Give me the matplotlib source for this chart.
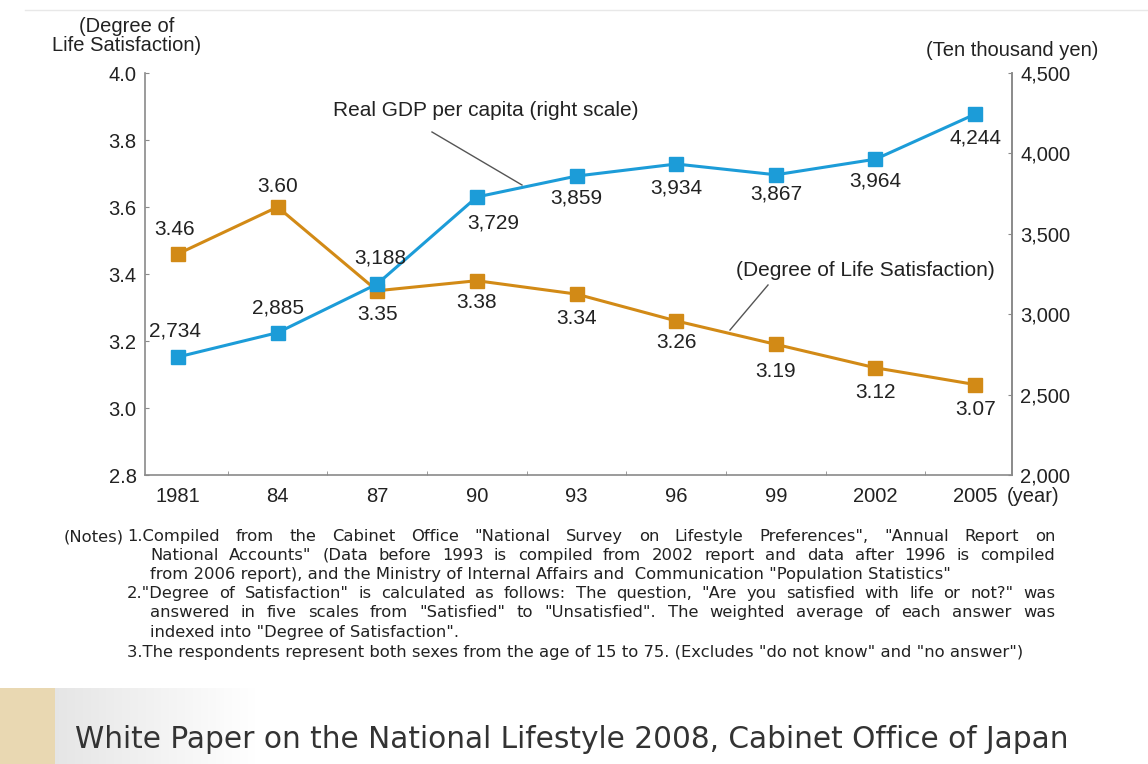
import numpy as np
import matplotlib.pyplot as plt
from matplotlib.lines import Line2D

# data
years = ['1981', '84', '87', '90', '93', '96', '99', '2002', '2005']
satisfaction = [3.46, 3.60, 3.35, 3.38, 3.34, 3.26, 3.19, 3.12, 3.07]
gdp = [2734, 2885, 3188, 3729, 3859, 3934, 3867, 3964, 4244]
sat_labels = ['3.46', '3.60', '3.35', '3.38', '3.34', '3.26', '3.19', '3.12', '3.07']
gdp_labels = ['2,734', '2,885', '3,188', '3,729', '3,859', '3,934', '3,867', '3,964', '4,244']
left_ticks = [2.8, 3.0, 3.2, 3.4, 3.6, 3.8, 4.0]
right_ticks = [2000, 2500, 3000, 3500, 4000, 4500]

# label offsets in pixels (dx, dy)
sat_off = [(-3, 24), (0, 21), (0, -24), (0, -22), (0, -24), (0, -22), (0, -27), (0, -25), (0, -25)]
gdp_off = [(-3, 26), (0, 25), (3, 26), (16, -26), (0, -22), (0, -24), (0, -19), (0, -22), (0, -24)]

notes = [
    # x, y, text, justify to right edge?
    (127, 536, '1.Compiled from the Cabinet Office "National Survey on Lifestyle Preferences", "Annual  Report on', True),
    (150, 555, 'National Accounts" (Data before 1993 is compiled from 2002 report and data after 1996 is compiled', True),
    (150, 574, 'from 2006 report), and the Ministry of Internal Affairs and  Communication "Population Statistics"', False),
    (127, 593, '2."Degree of Satisfaction" is calculated as follows: The question, "Are you satisfied with life or not?" was', True),
    (150, 612, 'answered in five scales from "Satisfied" to "Unsatisfied". The weighted average of each answer was', True),
    (150, 632, 'indexed into "Degree of Satisfaction".', False),
    (127, 652, '3.The respondents represent both sexes from the age of 15 to 75. (Excludes "do not know" and "no answer")', False),
]

plt.rcParams['font.family'] = ['Liberation Sans', 'DejaVu Sans']

W, H = 1148, 764
fig = plt.figure(figsize=(W / 100, H / 100), dpi=100)

blue = '#1c9cd8'
orange = '#d28a16'
txt = '#222222'
spine = '#8a8a8a'
nfs = 11.8

# background layer in pixel coordinates
bg = fig.add_axes([0, 0, 1, 1])
bg.set_xlim(0, W)
bg.set_ylim(H, 0)
bg.axis('off')

# banner with beige patch fading to white
img = np.ones((1, 320, 3))
beige = np.array([233, 216, 178]) / 255
grey = np.array([0.90, 0.90, 0.90])
for i in range(320):
    if i < 55:
        img[0, i] = beige
    else:
        t = min(1.0, (i - 55) / 200.0)
        img[0, i] = grey * (1 - t) + np.ones(3) * t
bg.imshow(img, extent=(0, 320, 764, 688), aspect='auto', zorder=0)
bg.add_line(Line2D([25, W], [10, 10], color='#e8e8e8', lw=1))
bg.text(75, 740, 'White Paper on the National Lifestyle 2008, Cabinet Office of Japan',
        fontsize=21.3, color='#333333', va='center', ha='left', family='DejaVu Sans')

# notes, some lines justified to the right edge (baseline aligned)
renderer = fig.canvas.get_renderer()
base = 5
bg.text(124, 536 + base, '(Notes)', fontsize=nfs, color=txt, va='baseline', ha='right', family='DejaVu Sans')
for x0, y, s, just in notes:
    if not just:
        bg.text(x0, y + base, s, fontsize=nfs, color=txt, va='baseline', ha='left', family='DejaVu Sans')
        continue
    words = s.split()
    ts = [bg.text(0, y + base, w, fontsize=nfs, color=txt, va='baseline', ha='left', family='DejaVu Sans')
          for w in words]
    widths = [t.get_window_extent(renderer).width for t in ts]
    gap = (1055 - x0 - sum(widths)) / (len(words) - 1)
    xx = x0
    for t, w in zip(ts, widths):
        t.set_x(xx)
        xx += w + gap

# main axes
ax = fig.add_axes([145 / W, (H - 475) / H, (1012 - 145) / W, (475 - 73) / H])
ax.set_zorder(2)
ax.patch.set_alpha(0)
x = np.arange(len(years))
ax.set_xlim(-0.33, 8.37)
ax.set_ylim(2.8, 4.0)
ax.plot(x, satisfaction, color=orange, lw=2.2, marker='s', ms=10.5, zorder=3)
ax.set_yticks(left_ticks)
ax.set_yticklabels(['%.1f' % v for v in left_ticks])
ax.set_xticks(x)
ax.set_xticklabels(years)
ax.set_xticks(x[:-1] + 0.5, minor=True)
ax.tick_params(axis='x', which='major', length=0, pad=9, labelsize=14.5, labelcolor=txt)
ax.tick_params(axis='x', which='minor', length=3, direction='in', color=spine)
ax.tick_params(axis='y', length=3, direction='in', color=spine, labelsize=14.5, labelcolor=txt, pad=6)
ax.spines['top'].set_visible(False)
for sname in ['left', 'bottom', 'right']:
    ax.spines[sname].set_color(spine)
    ax.spines[sname].set_linewidth(1.2)

ax2 = ax.twinx()
ax2.set_ylim(2000, 4500)
ax2.plot(x, gdp, color=blue, lw=2.2, marker='s', ms=10.5, zorder=3)
ax2.set_yticks(right_ticks)
ax2.set_yticklabels(['{:,}'.format(v) for v in right_ticks])
ax2.tick_params(axis='y', length=3, direction='in', color=spine, labelsize=14.5, labelcolor=txt, pad=6)
for sname in ['top', 'left', 'bottom']:
    ax2.spines[sname].set_visible(False)
ax2.spines['right'].set_color(spine)
ax2.spines['right'].set_linewidth(1.2)

for i in range(len(years)):
    ax.annotate(sat_labels[i], (x[i], satisfaction[i]), xytext=sat_off[i], textcoords='offset pixels',
                ha='center', va='center', fontsize=15, color=txt)
    ax2.annotate(gdp_labels[i], (x[i], gdp[i]), xytext=gdp_off[i], textcoords='offset pixels',
                 ha='center', va='center', fontsize=15, color=txt)

# series labels with leader lines
bg.text(486, 111, 'Real GDP per capita (right scale)', fontsize=15, color=txt, ha='center', va='center')
bg.add_line(Line2D([432, 522], [132, 185], color='#555555', lw=1))
bg.text(865, 271, '(Degree of Life Satisfaction)', fontsize=15, color=txt, ha='center', va='center')
bg.add_line(Line2D([768, 730], [285, 330], color='#555555', lw=1))

# axis titles
bg.text(127, 36, '(Degree of\nLife Satisfaction)', fontsize=14.5, color=txt, ha='center', va='center',
        linespacing=0.95)
bg.text(1012, 50, '(Ten thousand yen)', fontsize=14.5, color=txt, ha='center', va='center')
bg.text(1007, 497, '(year)', fontsize=14.5, color=txt, ha='left', va='center')

fig.savefig('out.png', dpi=100)
